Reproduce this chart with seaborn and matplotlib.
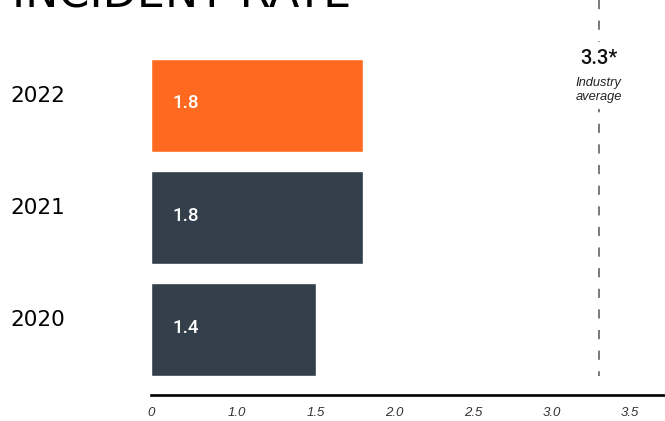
import matplotlib
matplotlib.use("Agg")
import matplotlib.pyplot as plt
import matplotlib.transforms as mtransforms
import seaborn as sns
import pandas as pd

# Data
years = ["2022", "2021", "2020"]
rates = [1.8, 1.8, 1.4]
bar_colors = ["#FF6A20", "#333F4A", "#333F4A"]
industry_avg = 3.3
tick_values = [1.0, 1.5, 2.0, 2.5, 3.0, 3.5]
tick_labels = ["1.0", "1.5", "2.0", "2.5", "3.0", "3.5"]

df = pd.DataFrame({"year": years, "rate": rates})

sns.set_theme(style="white")
plt.rcParams["font.family"] = ["DejaVu Sans"]

fig = plt.figure(figsize=(6.65, 4.21), dpi=100)
ax = fig.add_axes([151 / 665, 26 / 421, 514 / 665, 395 / 421])

bar_w = 0.83
sns.barplot(data=df, x="rate", y="year", hue="year", order=years,
            palette=bar_colors, width=bar_w, orient="h", legend=False,
            saturation=1, ax=ax)

ax.set_xlim(0, 514 / 117.5)
ax.set_ylim(2.58, -0.94)
ax.set_xlabel("")
ax.set_ylabel("")
ax.set_xticks([])
ax.set_yticks([])
for s in ["top", "right", "left"]:
    ax.spines[s].set_visible(False)
ax.spines["bottom"].set_color("black")
ax.spines["bottom"].set_linewidth(1.9)

# value labels inside the bars
for i, v in enumerate(rates):
    ax.annotate(f"{v}", xy=(0, i), xytext=(15.8, 1.5), textcoords="offset points",
                ha="left", va="center", color="white", fontsize=13.5,
                family="Roboto", fontweight="medium")

# year labels on the left, sitting a little above the bar centre
trans = mtransforms.blended_transform_factory(fig.transFigure, ax.transData)
for i, y in enumerate(years):
    ax.annotate(y, xy=(10 / 665, i), xycoords=trans, xytext=(0, 7),
                textcoords="offset points", ha="left", va="center",
                fontsize=15.5, color="black")

# secondary scale for the tick labels and the industry average
ax2 = ax.twiny()
left = 1.0 - 86 / 157.2
ax2.set_xlim(left, 3.5 + 35 / 157.2)
ax2.set_ylim(2.58, -0.94)
ax2.xaxis.set_ticks_position("bottom")
ax2.xaxis.set_label_position("bottom")
ax2.set_xticks([left] + tick_values)
ax2.set_xticklabels(["0"] + tick_labels, fontsize=9.5, style="italic",
                    family="Liberation Sans", color="#333333")
ax2.tick_params(axis="x", length=0, pad=9)
for s in ax2.spines.values():
    s.set_visible(False)

ax2.vlines(industry_avg, -0.94, len(years) - 1 + bar_w / 2, color="#555555",
           linewidth=1.1, linestyles=(0, (6, 7.5)))
ax2.text(industry_avg, -0.42, f"{industry_avg}*", ha="center", va="center",
         fontsize=14.5, family="Roboto", fontweight="medium", color="#111111",
         bbox=dict(facecolor="white", edgecolor="none", pad=5))
ax2.text(industry_avg, -0.135, "Industry\naverage", ha="center", va="center",
         fontsize=9.3, style="italic", family="Liberation Sans", color="#222222",
         linespacing=1.25,
         bbox=dict(facecolor="white", edgecolor="none", pad=4))

# title cut at the top edge
fig.text(12 / 665, 1 - 8 / 421, "INCIDENT RATE", ha="left", va="baseline",
         fontsize=32, color="black")

fig.savefig("out.png", dpi=100)
